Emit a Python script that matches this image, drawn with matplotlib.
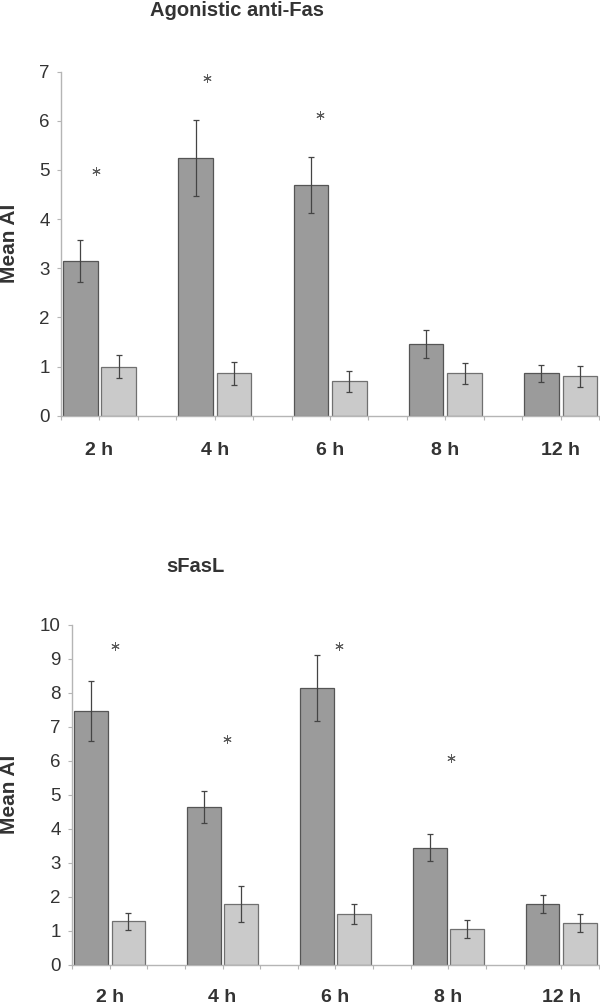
import matplotlib
matplotlib.use("Agg")
from matplotlib import pyplot as plt

plt.rcParams['font.family'] = ['Liberation Sans', 'DejaVu Sans']

horas = ["2 h", "4 h", "6 h", "8 h", "12 h"]

# Agonistic anti-Fas
fas_oscuro = [3.15, 5.25, 4.70, 1.46, 0.86]
fas_oscuro_err = [0.43, 0.77, 0.57, 0.29, 0.17]
fas_claro = [1.00, 0.86, 0.70, 0.86, 0.80]
fas_claro_err = [0.23, 0.23, 0.21, 0.21, 0.22]
fas_ast_x = [0.9, 3.81, 6.74]
fas_ast_y = [4.98, 6.87, 6.12]

# sFasL
sfasl_oscuro = [7.46, 4.65, 8.15, 3.45, 1.80]
sfasl_oscuro_err = [0.88, 0.47, 0.97, 0.39, 0.27]
sfasl_claro = [1.29, 1.80, 1.49, 1.05, 1.24]
sfasl_claro_err = [0.25, 0.53, 0.30, 0.27, 0.27]
sfasl_ast_x = [1.14, 4.11, 7.09, 10.06]
sfasl_ast_y = [9.37, 6.63, 9.37, 6.08]

texto = "#333333"
gris_eje = "#b5b5b5"


def grafica(ax, oscuro, oscuro_err, claro, claro_err, ast_x, ast_y, ymax, titulo, tx, ty, fig, pad_x):
    x_osc = [3 * i + 0.5 for i in range(len(horas))]
    x_cla = [3 * i + 1.5 for i in range(len(horas))]
    ax.bar(x_osc, oscuro, width=0.9, color="#9b9b9b", edgecolor="#555555", linewidth=0.9, zorder=2)
    ax.bar(x_cla, claro, width=0.9, color="#cacaca", edgecolor="#707070", linewidth=0.9, zorder=2)
    ax.errorbar(x_osc, oscuro, yerr=oscuro_err, fmt="none", ecolor="#444444", elinewidth=0.9, capsize=2.2, capthick=0.9, zorder=3)
    ax.errorbar(x_cla, claro, yerr=claro_err, fmt="none", ecolor="#444444", elinewidth=0.9, capsize=2.2, capthick=0.9, zorder=3)
    ax.scatter(ast_x, ast_y, marker=(6, 2, 0), s=30, color="#5a5a5a", linewidths=0.7, zorder=3)

    ax.set_xlim(0, 14)
    ax.set_ylim(0, ymax)
    ax.set_yticks(range(ymax + 1))
    ax.xaxis.remove_overlapping_locs = False
    ax.set_xticks(range(15), labels=[""] * 15)
    ax.set_xticks([3 * i + 1 for i in range(len(horas))], labels=horas, minor=True)
    ax.tick_params(axis="x", which="major", length=3, color=gris_eje, direction="out")
    ax.tick_params(axis="x", which="minor", length=0, pad=pad_x, labelsize=14, labelcolor=texto)
    for t in ax.get_xticklabels(minor=True):
        t.set_fontweight("bold")
    ax.tick_params(axis="y", length=3, color=gris_eje, labelsize=13.5, labelcolor=texto, pad=5)
    for s in ["top", "right"]:
        ax.spines[s].set_visible(False)
    for s in ["left", "bottom"]:
        ax.spines[s].set_color(gris_eje)
        ax.spines[s].set_linewidth(1.0)
    ax.set_ylabel("Mean AI", fontsize=15, fontweight="bold", color=texto)
    fig.text(tx, ty, titulo, fontsize=14.5, fontweight="bold", color=texto, ha="center", va="center")


fig = plt.figure(figsize=(6, 10.06), dpi=100)
ax1 = fig.add_axes([0.1017, 0.5868, 0.8967, 0.3419])
ax2 = fig.add_axes([0.12, 0.0408, 0.8783, 0.3382])

grafica(ax1, fas_oscuro, fas_oscuro_err, fas_claro, fas_claro_err, fas_ast_x, fas_ast_y, 7,
        "Agonistic anti-Fas", 237 / 600, 1 - 11 / 1006, fig, 19)
grafica(ax2, sfasl_oscuro, sfasl_oscuro_err, sfasl_claro, sfasl_claro_err, sfasl_ast_x, sfasl_ast_y, 10,
        "sFasL", 195 / 600, 1 - 566 / 1006, fig, 17)

ax1.yaxis.set_label_coords((19 - 61) / 538, 0.5)
ax2.yaxis.set_label_coords((19 - 72) / 527, 0.5)

fig.savefig("out.png", dpi=100)
